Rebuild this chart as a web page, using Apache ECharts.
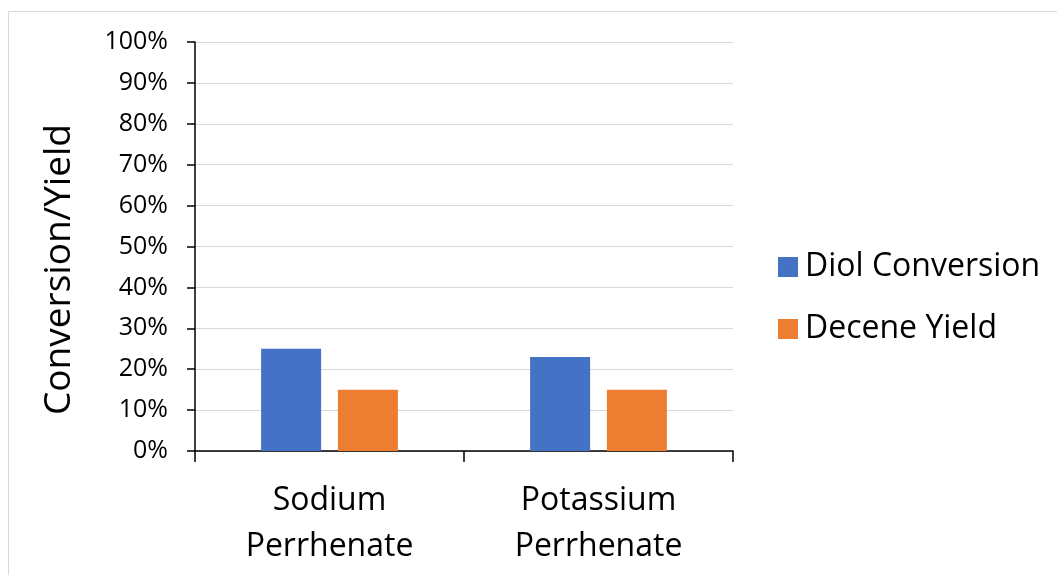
<!DOCTYPE html>
<html>
<head>
<meta charset="utf-8">
<script src="https://cdn.jsdelivr.net/npm/echarts@6/dist/echarts.min.js"></script>
<style>
  html, body { margin: 0; padding: 0; background: #fff; }
  #chart { width: 1057px; height: 575px; }
</style>
</head>
<body>
<div id="chart"></div>
<script>
// Catalyst salts compared
const categories = ['Sodium\nPerrhenate', 'Potassium\nPerrhenate'];
// Percent values per catalyst
const diolConversion = [25, 23];
const deceneYield = [15, 15];
const seriesNames = ['Diol Conversion', 'Decene Yield'];
const seriesColors = ['#4472C4', '#ED7D31'];

const FONT = '"Open Sans"';
const chart = echarts.init(document.getElementById('chart'));

chart.setOption({
  animation: false,
  backgroundColor: '#fff',
  textStyle: { fontFamily: FONT, color: '#000' },
  graphic: [
    {
      type: 'polyline',
      shape: { points: [[8.5, 575], [8.5, 11.5], [1057, 11.5]] },
      style: { stroke: '#d9d9d9', lineWidth: 1, fill: null }
    }
  ],
  grid: { left: 195, right: 324, top: 42, bottom: 124 },
  legend: {
    orient: 'vertical',
    left: 773,
    top: 246,
    icon: 'rect',
    itemWidth: 20,
    itemHeight: 20,
    itemGap: 30,
    data: seriesNames,
    textStyle: { fontFamily: FONT, fontSize: 32, color: '#000', padding: [0, 0, 0, 2] }
  },
  xAxis: {
    type: 'category',
    data: categories,
    boundaryGap: true,
    axisLine: { lineStyle: { color: '#000', width: 1.5 } },
    axisTick: { show: true, length: 11, inside: false, lineStyle: { color: '#000', width: 1.5 } },
    axisLabel: { fontFamily: FONT, fontSize: 32, color: '#000', lineHeight: 46, margin: 27 }
  },
  yAxis: {
    type: 'value',
    min: 0,
    max: 100,
    interval: 10,
    name: 'Conversion/Yield',
    nameLocation: 'middle',
    nameRotate: 90,
    nameGap: 117,
    nameTextStyle: { fontFamily: FONT, fontSize: 37, color: '#000', padding: [0, 46, 0, 0] },
    axisLine: { show: true, lineStyle: { color: '#000', width: 1.5 } },
    axisTick: { show: true, length: 8, lineStyle: { color: '#000', width: 1.5 } },
    splitLine: { lineStyle: { color: '#d9d9d9', width: 1 } },
    axisLabel: { fontFamily: FONT, fontSize: 25, color: '#000', margin: 27, formatter: '{value}%' }
  },
  series: [
    {
      name: seriesNames[0],
      type: 'bar',
      data: diolConversion,
      barWidth: 60,
      barGap: '28%',
      itemStyle: { color: seriesColors[0] }
    },
    {
      name: seriesNames[1],
      type: 'bar',
      data: deceneYield,
      barWidth: 60,
      barGap: '28%',
      itemStyle: { color: seriesColors[1] }
    }
  ]
});
</script>
</body>
</html>
